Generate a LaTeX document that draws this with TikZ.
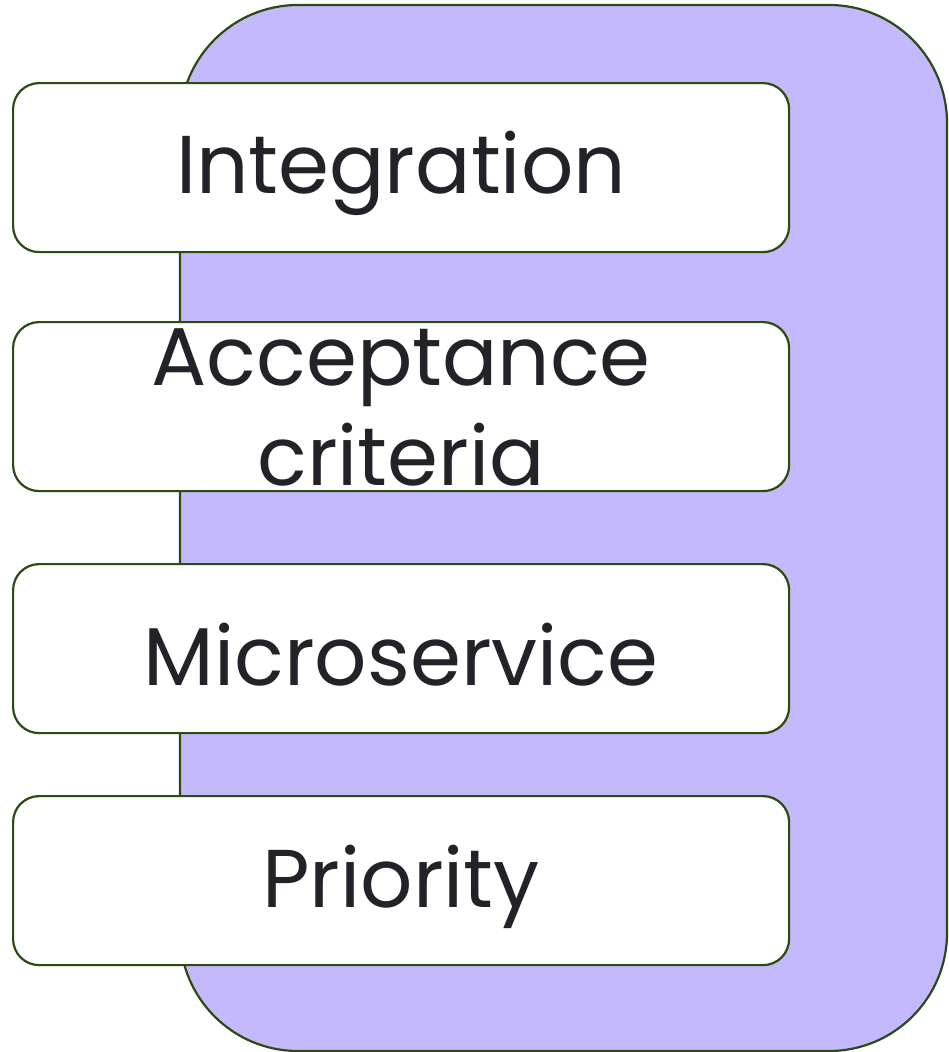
\documentclass[tikz,border=0pt]{standalone}
\usepackage{fontspec}
\setmainfont{Poppins}
\definecolor{bgfill}{HTML}{C3B9FC}
\definecolor{edge}{HTML}{2D4A14}
\definecolor{txt}{HTML}{222329}
\begin{document}
\begin{tikzpicture}[x=1pt,y=-1pt,
  itembox/.style={draw=edge,line width=2.2pt,fill=white,rounded corners=26pt,
    minimum width=776pt,minimum height=169pt,inner sep=0pt,anchor=north west},
  itemtext/.style={text=txt,font=\fontsize{82}{100}\selectfont,align=center,inner sep=0pt}]
\useasboundingbox (0,0) rectangle (948,1052);
\draw[draw=edge,line width=2.2pt,fill=bgfill,rounded corners=118pt] (180,5) rectangle (947,1051);
\node[itembox] (n1) at (12,82) {};
\node[itembox] (n2) at (12,321) {};
\node[itembox] (n3) at (12,563) {};
\node[itembox] (n4) at (12,795) {};
\node[itemtext,yshift=-6pt] (t1) at (n1.center) {Integration};
\node[itemtext,yshift=-1pt] (t2) at (n2.center) {Acceptance\\criteria};
\node[itemtext,yshift=-6pt] (t3) at (n3.center) {Microservice};
\node[itemtext,yshift=-6pt] (t4) at (n4.center) {Priority};
\end{tikzpicture}
\end{document}
